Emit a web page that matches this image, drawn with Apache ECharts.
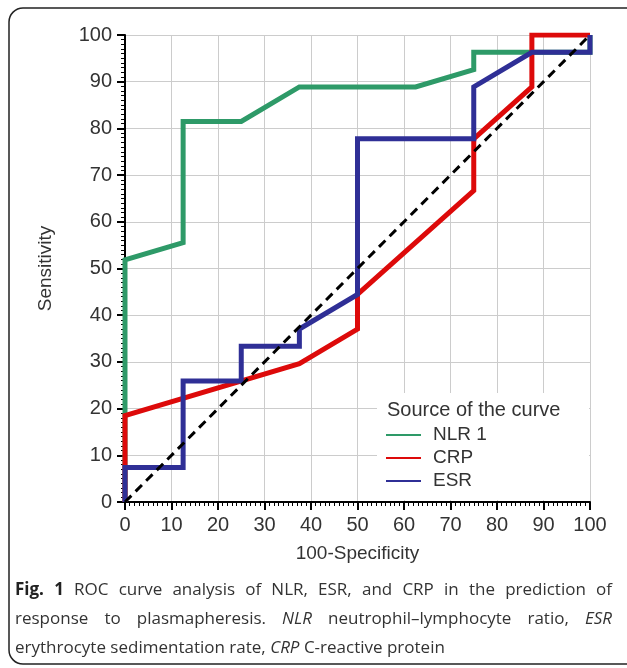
<!DOCTYPE html>
<html>
<head>
<meta charset="utf-8">
<script src="https://cdn.jsdelivr.net/npm/echarts@6/dist/echarts.min.js"></script>
<style>
    html, body { margin: 0; padding: 0; background: #fff; }
    #main { width: 627px; height: 668px; }
</style>
</head>
<body>
<div id="main"></div>
<script>
// 100-Specificity / Sensitivity points of each ROC curve
var nlrX = [0, 0, 12.5, 12.5, 25, 37.5, 62.5, 75, 75, 100, 100];
var nlrY = [0, 51.85, 55.56, 81.48, 81.48, 88.89, 88.89, 92.59, 96.3, 96.3, 100];
var crpX = [0, 0, 37.5, 50, 50, 75, 75, 87.5, 87.5, 100];
var crpY = [0, 18.52, 29.63, 37.04, 44.44, 66.67, 77.78, 88.89, 100, 100];
var esrX = [0, 0, 12.5, 12.5, 25, 25, 37.5, 37.5, 50, 50, 75, 75, 87.5, 100, 100];
var esrY = [0, 7.41, 7.41, 25.93, 25.93, 33.33, 33.33, 37.04, 44.44, 77.78, 77.78, 88.89, 96.3, 96.3, 100];
var refX = [0, 100];
var refY = [0, 100];
var seriesNames = ['NLR 1', 'CRP', 'ESR'];
var axisTicks = [0, 10, 20, 30, 40, 50, 60, 70, 80, 90, 100];

/* caption, {b|..} bold, {i|..} italic; first two lines are justified */
var captionLines = [
    '{b|Fig. 1} ROC curve analysis of NLR, ESR, and CRP in the prediction of',
    'response to plasmapheresis. {i|NLR} neutrophil\u2013lymphocyte ratio, {i|ESR}',
    'erythrocyte sedimentation rate, {i|CRP} C-reactive protein'
];

function pairs(xs, ys) {
    var out = [];
    for (var i = 0; i < xs.length; i++) {
        out.push([xs[i], ys[i]]);
    }
    return out;
}

var font = "'Liberation Sans', Arial, sans-serif";
var capFamily = "'Open Sans', sans-serif";
var capSize = 17;

function makeAxis(name, gap) {
    return {
        type: 'value',
        min: axisTicks[0],
        max: axisTicks[axisTicks.length - 1],
        interval: axisTicks[1] - axisTicks[0],
        name: name,
        nameLocation: 'middle',
        nameGap: gap,
        nameTextStyle: {fontSize: 19, color: '#333', fontFamily: font},
        axisLine: {show: true, onZero: false, lineStyle: {color: '#000', width: 2}},
        axisTick: {show: true, length: 8, lineStyle: {color: '#000', width: 2}},
        minorTick: {show: true, splitNumber: 10, length: 4, lineStyle: {color: '#000', width: 1}},
        splitLine: {show: true, lineStyle: {color: '#cccccc', width: 1}},
        axisLabel: {fontSize: 20, color: '#333', fontFamily: font, margin: 13}
    };
}

var colors = ['#2e9a68', '#dd0a0a', '#2f2f96'];
var curves = [pairs(nlrX, nlrY), pairs(crpX, crpY), pairs(esrX, esrY)];

var series = [];
for (var i = 0; i < curves.length; i++) {
    series.push({
        name: seriesNames[i],
        type: 'line',
        data: curves[i],
        symbol: 'none',
        silent: true,
        color: colors[i],
        lineStyle: {color: colors[i], width: 5, join: 'miter', cap: 'butt'}
    });
}
series.push({
    name: 'ref',
    type: 'line',
    data: pairs(refX, refY),
    symbol: 'none',
    silent: true,
    z: 3,
    lineStyle: {color: '#000', width: 3, type: [9, 6]}
});

var graphics = [{
    type: 'rect',
    z: 3,
    shape: {x: 377, y: 393, width: 212, height: 107},
    style: {fill: '#fff'}
}, {
    type: 'rect',
    shape: {x: 9, y: 8, width: 660, height: 656, r: 14},
    style: {fill: 'none', stroke: '#222', lineWidth: 1.5}
}];

/* split caption into words, measure them and lay them out justified */
var ctx = document.createElement('canvas').getContext('2d');
function capFont(s) {
    var pre = s === 'b' ? 'bold ' : (s === 'i' ? 'italic ' : '');
    return pre + capSize + 'px ' + capFamily;
}
function parseLine(line) {
    var words = [], re = /\{(\w)\|([^}]*)\}|([^{]+)/g, m;
    while ((m = re.exec(line)) !== null) {
        var s = m[1] || 'n', txt = m[1] ? m[2] : m[3];
        txt.split(' ').forEach(function (w) {
            if (w) {
                ctx.font = capFont(s);
                words.push({t: w, s: s, w: ctx.measureText(w).width});
            }
        });
    }
    return words;
}
var capLeft = 15, capRight = 612;
ctx.font = capFont('n');
var spaceW = ctx.measureText(' ').width;
captionLines.forEach(function (line, j) {
    var words = parseLine(line);
    var total = 0;
    words.forEach(function (w) { total += w.w; });
    var gap = j < captionLines.length - 1 ? (capRight - capLeft - total) / (words.length - 1) : spaceW;
    var x = capLeft;
    words.forEach(function (w) {
        graphics.push({
            type: 'text',
            x: x,
            y: 582 + j * 29,
            style: {
                text: w.t,
                fontSize: capSize,
                fontFamily: capFamily,
                fontWeight: w.s === 'b' ? 'bold' : 'normal',
                fontStyle: w.s === 'i' ? 'italic' : 'normal',
                fill: w.s === 'b' ? '#222' : '#333'
            }
        });
        x += w.w + gap;
    });
});

var myChart = echarts.init(document.getElementById('main'), null, {renderer: 'canvas'});
myChart.setOption({
    animation: false,
    backgroundColor: '#fff',
    grid: {left: 125, top: 35, width: 465, height: 467, containLabel: false},
    title: {
        text: 'Source of the curve',
        left: 387,
        top: 400,
        padding: 0,
        textStyle: {fontSize: 20, fontWeight: 'normal', color: '#333', fontFamily: font}
    },
    legend: {
        data: seriesNames,
        orient: 'vertical',
        left: 386,
        top: 425,
        padding: 0,
        itemWidth: 35,
        itemHeight: 2,
        itemGap: 3,
        icon: 'rect',
        textStyle: {fontSize: 19, color: '#333', fontFamily: font, lineHeight: 20, padding: [0, 0, 0, 7]}
    },
    xAxis: makeAxis('100-Specificity', 42),
    yAxis: makeAxis('Sensitivity', 70),
    graphic: graphics,
    series: series
});
</script>
</body>
</html>
